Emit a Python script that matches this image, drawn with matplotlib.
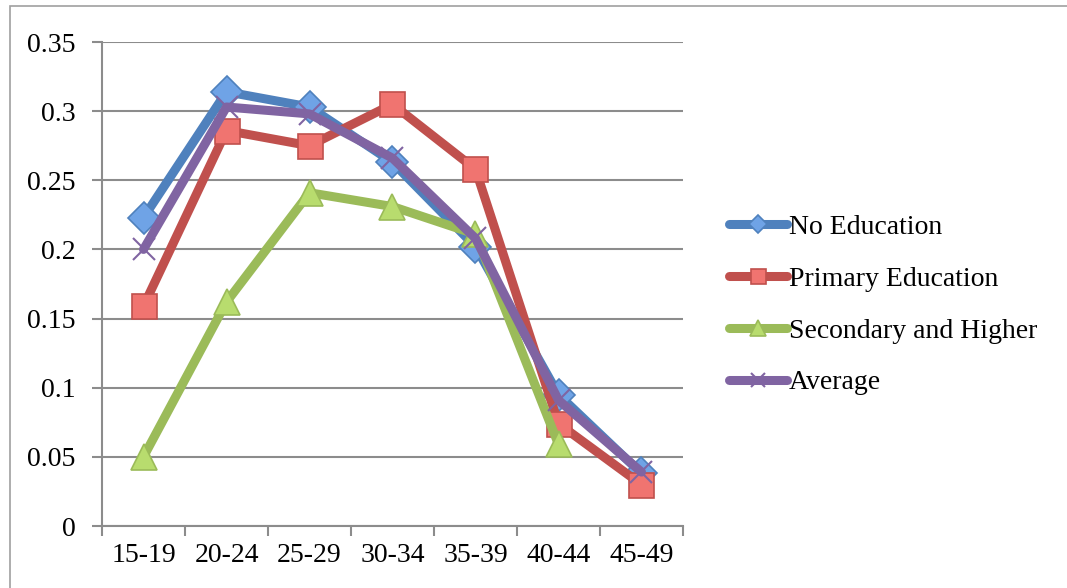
import matplotlib
matplotlib.use("Agg")
import matplotlib.pyplot as plt
from matplotlib.patches import Rectangle
import numpy as np

categories = ["15-19", "20-24", "25-29", "30-34", "35-39", "40-44", "45-49"]
no_education = [0.223, 0.314, 0.303, 0.263, 0.202, 0.095, 0.038]
primary_education = [0.159, 0.286, 0.275, 0.305, 0.258, 0.074, 0.030]
secondary_higher = [0.050, 0.162, 0.241, 0.231, 0.211, 0.059, np.nan]
average = [0.200, 0.303, 0.298, 0.266, 0.208, 0.091, 0.039]
yticks = [0, 0.05, 0.1, 0.15, 0.2, 0.25, 0.3, 0.35]
ytick_labels = ["0", "0.05", "0.1", "0.15", "0.2", "0.25", "0.3", "0.35"]

plt.rcParams['font.family'] = ['Liberation Serif', 'DejaVu Serif']

W, H = 1067, 588
fig = plt.figure(figsize=(W / 100, H / 100), dpi=100)
fig.patches.append(Rectangle((10 / W, -0.1), 1.2, 1 - 6 / H + 0.1, transform=fig.transFigure,
                             fill=False, edgecolor="#a0a0a0", linewidth=1.2))

ax = fig.add_axes([102 / W, 1 - 526 / H, (683 - 102) / W, (526 - 42) / H])
x = np.arange(len(categories))

series = [
    ("No Education", no_education, "#4F81BD", "#6fa3e6", "D", 16),
    ("Primary Education", primary_education, "#C0504D", "#f07470", "s", 18),
    ("Secondary and Higher", secondary_higher, "#9BBB59", "#b8dc6e", "^", 19),
    ("Average", average, "#8064A2", "#8064A2", "x", 16),
]
handles = []
for name, vals, lc, mc, m, ms in series:
    if m == "x":
        ln, = ax.plot(x, vals, color=lc, lw=6.5, marker=m, markersize=ms,
                      markeredgewidth=1.5, markeredgecolor=lc, label=name,
                      solid_capstyle="round", solid_joinstyle="round")
    else:
        ln, = ax.plot(x, vals, color=lc, lw=6.5, marker=m, markersize=ms,
                      markerfacecolor=mc, markeredgecolor=lc, markeredgewidth=1.2,
                      label=name, solid_capstyle="round", solid_joinstyle="round")
    handles.append(ln)

ax.set_xlim(-0.5, len(categories) - 0.5)
ax.set_ylim(0, 0.35)
ax.set_yticks(yticks)
ax.set_yticklabels(ytick_labels)
ax.set_xticks(x)
ax.set_xticklabels(categories)
ax.set_xticks(np.arange(-0.5, len(categories), 1.0), minor=True)
ax.tick_params(axis="x", which="major", length=0, pad=12, labelsize=20)
ax.tick_params(axis="x", which="minor", length=7, width=1.5, color="#8c8c8c")
ax.tick_params(axis="y", which="major", length=7, width=1.5, color="#8c8c8c",
               pad=12, labelsize=20)
ax.grid(axis="y", color="#8c8c8c", linewidth=1.5)
ax.set_axisbelow(True)
for s in ["top", "right"]:
    ax.spines[s].set_visible(False)
for s in ["left", "bottom"]:
    ax.spines[s].set_color("#8c8c8c")
    ax.spines[s].set_linewidth(1.5)

leg = fig.legend(handles=handles, loc="center left",
                 bbox_to_anchor=(704 / W, 1 - 305 / H), frameon=False,
                 fontsize=20, handlelength=2.1, handletextpad=0.05,
                 labelspacing=0.95, markerscale=0.6)

fig.savefig("out.png", dpi=100)
